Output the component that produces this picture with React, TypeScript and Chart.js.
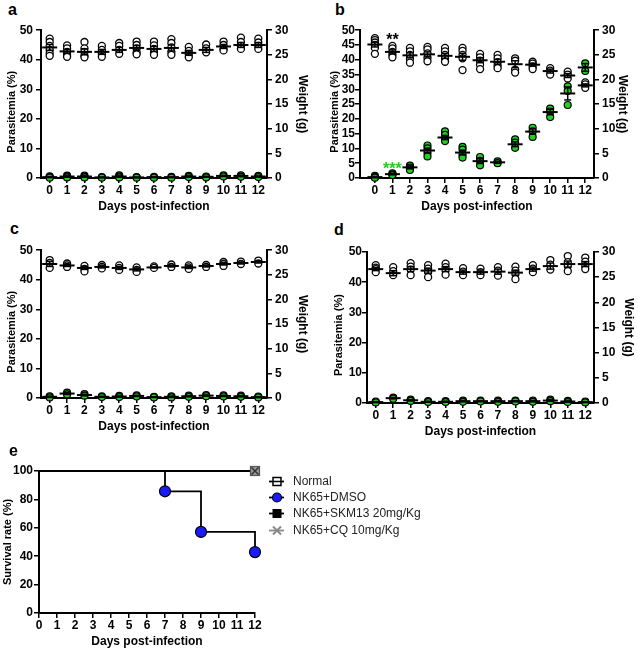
import React, { useEffect, useRef } from 'react';
import { Chart, registerables } from 'chart.js';

Chart.register(...registerables);

const FONT = '"Liberation Sans", Arial, Helvetica, sans-serif';
const DAYS = [0, 1, 2, 3, 4, 5, 6, 7, 8, 9, 10, 11, 12];
const PARA_TICKS_10 = [0, 10, 20, 30, 40, 50];
const PARA_TICKS_5 = [0, 5, 10, 15, 20, 25, 30, 35, 40, 45, 50];
const WEIGHT_TICKS = [0, 5, 10, 15, 20, 25, 30];
const SURV_TICKS = [0, 20, 40, 60, 80, 100];

const X_TITLE = 'Days post-infection';
const LEFT_TITLE = 'Parasitemia (%)     ';
const RIGHT_TITLE = 'Weight (g)';
const SURV_TITLE = 'Survival rate (%)';

// ---- panel a ----
const A_WEIGHT = [
  [28.3, 27.6, 26.8, 26.0, 25.3, 24.8], [26.9, 26.3, 25.6, 25.0, 24.6], [27.6, 26.3, 25.6, 24.8, 24.5],
  [26.8, 26.0, 25.2, 24.6], [27.4, 26.8, 26.0, 25.2], [27.7, 27.0, 26.3, 25.5, 25.1],
  [27.7, 26.9, 26.2, 25.5, 25.0], [28.2, 27.4, 26.5, 25.6, 25.0], [26.6, 25.8, 25.1, 24.5],
  [27.1, 26.3, 25.5], [27.7, 27.0, 26.2, 25.9], [28.5, 27.6, 26.8, 26.2], [28.3, 27.5, 26.8, 26.2],
];
const A_WEIGHT_MEAN = [26.5, 25.7, 25.6, 25.6, 26.0, 26.4, 26.2, 26.4, 25.4, 26.0, 26.7, 27.0, 27.0];
const A_WEIGHT_SEM = [0.6, 0.4, 0.6, 0.5, 0.5, 0.5, 0.5, 0.6, 0.5, 0.5, 0.4, 0.5, 0.5];
const A_PARA = [
  [0.6, 0.3, 0.1], [0.8, 0.5, 0.2], [0.8, 0.4, 0.2], [0.3, 0.1], [0.9, 0.5, 0.2], [0.3, 0.1], [0.4, 0.1],
  [0.4, 0.1], [0.7, 0.3], [0.5, 0.2], [0.9, 0.5], [0.9, 0.4], [0.7, 0.3],
];
const A_PARA_MEAN = [0.3, 0.5, 0.5, 0.2, 0.5, 0.2, 0.3, 0.3, 0.5, 0.4, 0.7, 0.7, 0.5];
const A_PARA_SEM = [0.15, 0.2, 0.2, 0.1, 0.2, 0.1, 0.15, 0.15, 0.2, 0.15, 0.2, 0.25, 0.2];

// ---- panel b ----
const B_WEIGHT = [
  [28.4, 28.0, 27.5, 27.0, 26.4, 25.2], [26.8, 26.3, 25.6, 25.0, 24.5], [26.4, 25.7, 25.0, 24.2, 23.4],
  [26.6, 26.1, 25.3, 24.4, 23.7], [26.4, 25.7, 25.0, 24.3, 23.6], [26.4, 25.8, 25.0, 24.3, 21.9],
  [25.2, 24.5, 23.8, 23.0, 22.1], [25.0, 24.3, 23.5, 22.8, 22.3], [24.3, 23.8, 22.0, 21.4],
  [23.6, 23.2, 22.6, 22.1], [22.3, 21.8, 21.0], [21.6, 21.0, 20.2], [19.4, 19.0, 18.3],
];
const B_WEIGHT_MEAN = [27.1, 25.6, 24.9, 25.1, 24.8, 24.6, 23.9, 23.6, 23.1, 23.0, 21.7, 20.8, 18.8];
const B_WEIGHT_SEM = [0.5, 0.4, 0.5, 0.5, 0.5, 0.7, 0.5, 0.5, 0.7, 0.3, 0.4, 0.4, 0.3];
const B_PARA = [
  [0.7, 0.3, 0.1], [1.6, 1.2, 1.0], [4.2, 3.5, 2.7], [11.0, 10.0, 8.5, 7.3], [15.8, 14.6, 13.0, 12.5],
  [10.5, 9.6, 7.9, 6.9], [7.1, 5.8, 4.3], [5.6, 5.0], [13.1, 12.0, 10.2], [17.0, 15.8, 13.9],
  [23.5, 22.5, 20.6], [31.0, 29.4, 24.7], [38.8, 36.2],
];
const B_PARA_MEAN = [0.3, 1.3, 3.6, 9.3, 13.7, 8.6, 5.7, 5.3, 11.4, 15.7, 22.3, 28.6, 37.4];
const B_PARA_SEM = [0.2, 0.2, 0.5, 0.8, 0.7, 0.8, 0.8, 0.3, 0.8, 0.9, 0.9, 2.2, 1.3];
const B_SIGNIF = [
  { day: 1, value: 48.2, text: '**', color: '#000000' },
  { day: 1, value: 4.5, text: '***', color: '#22cc22' },
];

// ---- panel c ----
const C_WEIGHT = [
  [28.0, 27.4, 26.4], [27.3, 26.9, 26.6], [26.8, 26.2, 25.7], [27.0, 26.6, 26.3], [26.9, 26.4, 26.0],
  [26.5, 26.0, 25.6], [26.7, 26.4], [27.1, 26.6], [26.9, 26.5, 26.2], [27.0, 26.6], [27.6, 27.2, 26.8],
  [27.7, 27.2], [27.9, 27.3],
];
const C_WEIGHT_MEAN = [27.2, 26.9, 26.4, 26.6, 26.4, 26.1, 26.5, 26.8, 26.5, 26.8, 27.2, 27.4, 27.6];
const C_WEIGHT_SEM = [0.5, 0.2, 0.3, 0.2, 0.3, 0.3, 0.1, 0.2, 0.2, 0.2, 0.2, 0.2, 0.2];
const C_PARA = [
  [0.6, 0.2], [1.8, 1.2], [1.3, 0.8], [0.6, 0.3], [0.7, 0.3], [0.9, 0.5], [0.4, 0.2], [0.6, 0.2],
  [0.8, 0.4], [1.0, 0.6], [0.9, 0.5], [0.8, 0.4], [0.5, 0.2],
];
const C_PARA_MEAN = [0.4, 1.5, 1.0, 0.4, 0.5, 0.7, 0.3, 0.4, 0.6, 0.8, 0.7, 0.6, 0.3];
const C_PARA_SEM = [0.2, 0.3, 0.25, 0.15, 0.2, 0.2, 0.1, 0.2, 0.2, 0.2, 0.2, 0.2, 0.15];

// ---- panel d ----
const D_WEIGHT = [
  [27.4, 26.9, 26.6, 26.0], [27.0, 26.2, 25.4], [27.8, 27.1, 26.5, 25.4], [27.4, 26.7, 26.0, 25.0],
  [27.7, 27.0, 26.3, 25.5], [26.8, 26.1, 25.4], [26.7, 26.0, 25.4], [27.0, 26.3, 25.3],
  [27.1, 26.3, 25.6, 24.6], [27.4, 26.7, 26.0], [28.4, 27.5, 26.5], [29.2, 28.0, 27.2, 26.2],
  [28.9, 28.1, 27.2, 26.6],
];
const D_WEIGHT_MEAN = [26.6, 25.8, 26.6, 26.3, 26.6, 26.0, 26.0, 26.1, 25.9, 26.6, 27.2, 27.6, 27.6];
const D_WEIGHT_SEM = [0.3, 0.5, 0.5, 0.5, 0.5, 0.4, 0.4, 0.5, 0.5, 0.4, 0.6, 0.6, 0.5];
const D_PARA = [
  [0.5, 0.2], [1.8, 1.4], [1.1, 0.7], [0.6, 0.3], [0.6, 0.3], [0.8, 0.4], [0.8, 0.5], [0.8, 0.4],
  [0.8, 0.5], [0.8, 0.4], [1.1, 0.6], [0.7, 0.3], [0.5, 0.2],
];
const D_PARA_MEAN = [0.3, 1.6, 0.9, 0.4, 0.4, 0.6, 0.6, 0.6, 0.6, 0.6, 0.8, 0.5, 0.3];
const D_PARA_SEM = [0.15, 0.2, 0.2, 0.15, 0.15, 0.2, 0.15, 0.2, 0.15, 0.2, 0.25, 0.2, 0.15];

// ---- panel e (survival) ----
const SURV_CTRL_DAYS = [0, 12];
const SURV_NORMAL = [100, 100];
const SURV_SKM13 = [100, 100];
const SURV_CQ = [100, 100];
const SURV_DMSO_DAYS = [0, 7, 9, 12];
const SURV_DMSO = [100, 85.7, 57.1, 42.9];
const LEGEND_LABELS = ['Normal', 'NK65+DMSO', 'NK65+SKM13 20mg/Kg', 'NK65+CQ 10mg/Kg'];

const GREEN = '#1ed21e';
const BLUE = '#1a1aff';

const bold12 = { family: FONT, size: 12, weight: 'bold' as const };
const bold11 = { family: FONT, size: 11, weight: 'bold' as const };

const fixedWidth = (w: number) => (s: any) => { s.width = w; };
const fixedHeight = (h: number) => (s: any) => { s.height = h; };
const fixedTicks = (vals: number[]) => (s: any) => { s.ticks = vals.map((v) => ({ value: v })); };
const gridStyle = () => ({
  display: true, drawOnChartArea: false, drawTicks: true, tickLength: 5,
  tickWidth: 1.5, tickColor: '#000', color: '#000', lineWidth: 1.5,
});
const borderStyle = { display: true, color: '#000', width: 2 };

const groupPoints = (groups: number[][]) =>
  groups.flatMap((g, i) => g.map((v) => ({ x: DAYS[i], y: v })));
const meanPoints = (m: number[]) => m.map((v, i) => ({ x: DAYS[i], y: v }));
const semBars = (m: number[], s: number[]) =>
  m.flatMap((v, i) => [
    { x: DAYS[i], y: v - s[i] },
    { x: DAYS[i], y: v + s[i] },
    { x: DAYS[i], y: null },
  ]);

type Geom = {
  left: number; top: number; width: number; height: number;
  padTop: number; lw: number; rw: number; xh: number; xMin: number;
  leftTitlePad: number; rightTitlePad: number; leftTicks: number[]; leftTickPad: number;
};

type PanelData = {
  weight: number[][]; wMean: number[]; wSem: number[];
  para: number[][]; pMean: number[]; pSem: number[];
  signif?: { day: number; value: number; text: string; color: string }[];
};

const signifPlugin = {
  id: 'signif',
  afterDatasetsDraw(chart: any) {
    const items = chart.options.plugins.signif?.items || [];
    const ctx = chart.ctx;
    ctx.save();
    ctx.font = `bold 16px ${FONT}`;
    ctx.textAlign = 'center';
    ctx.textBaseline = 'alphabetic';
    for (const it of items) {
      const x = chart.scales.x.getPixelForValue(it.day);
      const y = chart.scales.y.getPixelForValue(it.value);
      ctx.fillStyle = it.color;
      ctx.fillText(it.text, x, y + 16 * 0.6);
    }
    ctx.restore();
  },
};

function dualConfig(g: Geom, d: PanelData): any {
  const barDs = (data: any[], axis: string) => ({
    data, yAxisID: axis, showLine: true, spanGaps: false, clip: false,
    borderColor: '#000', borderWidth: 1.5,
    pointStyle: 'line', pointRadius: 3.5, pointBorderWidth: 1.5, pointBorderColor: '#000',
  });
  const meanDs = (data: any[], axis: string) => ({
    data, yAxisID: axis, showLine: false, clip: false,
    pointStyle: 'line', pointRadius: 7.5, pointBorderWidth: 2, pointBorderColor: '#000',
  });
  return {
    type: 'scatter',
    data: {
      datasets: [
        barDs(semBars(d.wMean, d.wSem), 'y2'),
        barDs(semBars(d.pMean, d.pSem), 'y'),
        meanDs(meanPoints(d.wMean), 'y2'),
        meanDs(meanPoints(d.pMean), 'y'),
        {
          data: groupPoints(d.para), yAxisID: 'y', clip: false,
          pointStyle: 'circle', pointRadius: 3.5, pointBackgroundColor: GREEN,
          pointBorderColor: '#000', pointBorderWidth: 1.2,
        },
        {
          data: groupPoints(d.weight), yAxisID: 'y2', clip: false,
          pointStyle: 'circle', pointRadius: 3.5, pointBackgroundColor: '#fff',
          pointBorderColor: '#000', pointBorderWidth: 1.3,
        },
      ],
    },
    options: {
      animation: false, responsive: false, maintainAspectRatio: false, events: [],
      layout: { padding: { top: g.padTop, left: 0, right: 0, bottom: 0 }, autoPadding: false },
      plugins: { legend: { display: false }, tooltip: { enabled: false }, signif: { items: d.signif || [] } },
      scales: {
        x: {
          type: 'linear', position: 'bottom', min: g.xMin, max: 12.5,
          afterFit: fixedHeight(g.xh), afterBuildTicks: fixedTicks(DAYS),
          grid: gridStyle(), border: borderStyle,
          ticks: { font: bold12, color: '#000', padding: 0, autoSkip: false, maxRotation: 0, minRotation: 0 },
          title: { display: true, text: X_TITLE, font: bold12, color: '#000', padding: { top: 0, bottom: 6 } },
        },
        y: {
          type: 'linear', position: 'left', min: 0, max: 50,
          afterFit: fixedWidth(g.lw), afterBuildTicks: fixedTicks(g.leftTicks),
          grid: gridStyle(), border: borderStyle,
          ticks: { font: bold12, color: '#000', padding: g.leftTickPad, autoSkip: false },
          title: { display: true, text: LEFT_TITLE, font: bold11, color: '#000', padding: { top: g.leftTitlePad, bottom: 0 } },
        },
        y2: {
          type: 'linear', position: 'right', min: 0, max: 30,
          afterFit: fixedWidth(g.rw), afterBuildTicks: fixedTicks(WEIGHT_TICKS),
          grid: gridStyle(), border: borderStyle,
          ticks: { font: bold12, color: '#000', padding: 3, autoSkip: false },
          title: { display: true, text: RIGHT_TITLE, font: bold12, color: '#000', padding: { top: g.rightTitlePad, bottom: 0 } },
        },
      },
    },
    plugins: [signifPlugin],
  };
}

function makeCqMarker() {
  const c = document.createElement('canvas');
  c.width = 12; c.height = 12;
  const g = c.getContext('2d')!;
  g.fillStyle = '#9a9a9a';
  g.fillRect(1, 1, 10, 10);
  g.strokeStyle = '#555';
  g.lineWidth = 1.2;
  g.strokeRect(1.5, 1.5, 9, 9);
  g.strokeStyle = '#333';
  g.lineWidth = 1.5;
  g.beginPath();
  g.moveTo(2.5, 2.5); g.lineTo(9.5, 9.5);
  g.moveTo(9.5, 2.5); g.lineTo(2.5, 9.5);
  g.stroke();
  return c;
}

const survLegendPlugin = {
  id: 'survLegend',
  afterDraw(chart: any) {
    const ctx = chart.ctx;
    const { right, top } = chart.chartArea;
    ctx.save();
    LEGEND_LABELS.forEach((label, i) => {
      const y = Math.round(top + 10 + i * 16.2) + 0.5;
      const cx = right + 22;
      ctx.lineWidth = 1.8;
      ctx.strokeStyle = i === 3 ? '#8a8a8a' : '#000';
      ctx.beginPath();
      ctx.moveTo(cx - 8, y);
      ctx.lineTo(cx + 7, y);
      ctx.stroke();
      ctx.lineWidth = 1.5;
      if (i === 0) {
        ctx.fillStyle = '#fff';
        ctx.fillRect(cx - 4, y - 4, 8, 8);
        ctx.strokeStyle = '#000';
        ctx.strokeRect(cx - 4, y - 4, 8, 8);
        ctx.beginPath(); ctx.moveTo(cx - 4, y); ctx.lineTo(cx + 4, y); ctx.stroke();
      } else if (i === 1) {
        ctx.fillStyle = BLUE;
        ctx.beginPath(); ctx.arc(cx, y, 4.5, 0, Math.PI * 2); ctx.fill();
        ctx.strokeStyle = '#000'; ctx.lineWidth = 1.2; ctx.stroke();
      } else if (i === 2) {
        ctx.fillStyle = '#000';
        ctx.fillRect(cx - 4.5, y - 4.5, 9, 9);
      } else {
        ctx.strokeStyle = '#8a8a8a';
        ctx.lineWidth = 2;
        ctx.beginPath();
        ctx.moveTo(cx - 4, y - 4); ctx.lineTo(cx + 4, y + 4);
        ctx.moveTo(cx + 4, y - 4); ctx.lineTo(cx - 4, y + 4);
        ctx.stroke();
      }
      ctx.fillStyle = '#222';
      ctx.font = `12px ${FONT}`;
      ctx.textAlign = 'left';
      ctx.textBaseline = 'middle';
      ctx.fillText(label, right + 38, y + 0.5);
    });
    ctx.restore();
  },
};

function survivalConfig(): any {
  const cq = makeCqMarker();
  const toXY = (xs: number[], ys: number[]) => ys.map((v, i) => ({ x: xs[i], y: v }));
  return {
    type: 'scatter',
    data: {
      datasets: [
        {
          label: LEGEND_LABELS[3], data: toXY(SURV_CTRL_DAYS, SURV_CQ), showLine: true, clip: false,
          borderColor: '#000', borderWidth: 1.8, pointStyle: cq, pointRadius: [0, 5],
        },
        {
          label: LEGEND_LABELS[1], data: toXY(SURV_DMSO_DAYS, SURV_DMSO), showLine: true, stepped: 'before', clip: false,
          borderColor: '#000', borderWidth: 1.8, pointStyle: 'circle', pointRadius: [0, 5.5, 5.5, 5.5],
          pointBackgroundColor: BLUE, pointBorderColor: '#000', pointBorderWidth: 1.2,
        },
        {
          label: LEGEND_LABELS[2], data: toXY(SURV_CTRL_DAYS, SURV_SKM13), showLine: true, clip: false,
          borderColor: '#000', borderWidth: 1.8, pointStyle: 'rect', pointRadius: [0, 5],
          pointBackgroundColor: '#000', pointBorderColor: '#000',
        },
        {
          label: LEGEND_LABELS[0], data: toXY(SURV_CTRL_DAYS, SURV_NORMAL), showLine: true, clip: false,
          borderColor: '#000', borderWidth: 1.8, pointStyle: 'rect', pointRadius: [0, 5],
          pointBackgroundColor: '#fff', pointBorderColor: '#000',
        },
      ],
    },
    options: {
      animation: false, responsive: false, maintainAspectRatio: false, events: [],
      layout: { padding: { top: 26, left: 0, right: 383, bottom: 0 }, autoPadding: false },
      plugins: { legend: { display: false }, tooltip: { enabled: false } },
      scales: {
        x: {
          type: 'linear', position: 'bottom', min: 0, max: 12,
          afterFit: fixedHeight(36), afterBuildTicks: fixedTicks(DAYS),
          grid: gridStyle(), border: borderStyle,
          ticks: { font: bold12, color: '#000', padding: 0, autoSkip: false, maxRotation: 0, minRotation: 0 },
          title: { display: true, text: X_TITLE, font: bold12, color: '#000', padding: { top: 0, bottom: 0 } },
        },
        y: {
          type: 'linear', position: 'left', min: 0, max: 100,
          afterFit: fixedWidth(39), afterBuildTicks: fixedTicks(SURV_TICKS),
          grid: gridStyle(), border: borderStyle,
          ticks: { font: bold12, color: '#000', padding: 1, autoSkip: false },
          title: { display: true, text: SURV_TITLE, font: bold11, color: '#000', padding: { top: 1, bottom: 0 } },
        },
      },
    },
    plugins: [survLegendPlugin],
  };
}

function ChartBox(props: { left: number; top: number; width: number; height: number; make: () => any }) {
  const ref = useRef<HTMLCanvasElement>(null);
  useEffect(() => {
    const chart = new Chart(ref.current as HTMLCanvasElement, props.make());
    return () => chart.destroy();
  }, []);
  return (
    <canvas
      ref={ref}
      width={props.width}
      height={props.height}
      style={{ position: 'absolute', left: props.left, top: props.top, width: props.width, height: props.height }}
    />
  );
}

const GEOM_A: Geom = { left: 0, top: 20, width: 318, height: 200, padTop: 7, lw: 41, rw: 51, xh: 42, xMin: -0.5, leftTitlePad: 5.4, rightTitlePad: 8.3, leftTicks: PARA_TICKS_10, leftTickPad: 3 };
const GEOM_B: Geom = { left: 318, top: 20, width: 320, height: 200, padTop: 7, lw: 42, rw: 44, xh: 42, xMin: -0.85, leftTitlePad: 10, rightTitlePad: 8.8, leftTicks: PARA_TICKS_5, leftTickPad: 0 };
const GEOM_C: Geom = { left: 0, top: 240, width: 318, height: 200, padTop: 7, lw: 41, rw: 51, xh: 42, xMin: -0.5, leftTitlePad: 5.4, rightTitlePad: 8.3, leftTicks: PARA_TICKS_10, leftTickPad: 3 };
const GEOM_D: Geom = { left: 318, top: 240, width: 320, height: 205, padTop: 12, lw: 49, rw: 44, xh: 42, xMin: -0.5, leftTitlePad: 14, rightTitlePad: 2.5, leftTicks: PARA_TICKS_10, leftTickPad: 0 };

const PANEL_LETTERS = [
  { text: 'a', left: 8, top: 1.5 },
  { text: 'b', left: 335, top: 1.5 },
  { text: 'c', left: 10, top: 221 },
  { text: 'd', left: 334, top: 221.5 },
  { text: 'e', left: 9, top: 442.5 },
];

export default function App() {
  const panels: [Geom, PanelData][] = [
    [GEOM_A, { weight: A_WEIGHT, wMean: A_WEIGHT_MEAN, wSem: A_WEIGHT_SEM, para: A_PARA, pMean: A_PARA_MEAN, pSem: A_PARA_SEM }],
    [GEOM_B, { weight: B_WEIGHT, wMean: B_WEIGHT_MEAN, wSem: B_WEIGHT_SEM, para: B_PARA, pMean: B_PARA_MEAN, pSem: B_PARA_SEM, signif: B_SIGNIF }],
    [GEOM_C, { weight: C_WEIGHT, wMean: C_WEIGHT_MEAN, wSem: C_WEIGHT_SEM, para: C_PARA, pMean: C_PARA_MEAN, pSem: C_PARA_SEM }],
    [GEOM_D, { weight: D_WEIGHT, wMean: D_WEIGHT_MEAN, wSem: D_WEIGHT_SEM, para: D_PARA, pMean: D_PARA_MEAN, pSem: D_PARA_SEM }],
  ];
  return (
    <div style={{ position: 'absolute', left: 0, top: 0, width: 638, height: 649, background: '#fff', overflow: 'hidden' }}>
      {panels.map(([g, d], i) => (
        <ChartBox key={i} left={g.left} top={g.top} width={g.width} height={g.height} make={() => dualConfig(g, d)} />
      ))}
      <ChartBox left={0} top={445} width={638} height={204} make={survivalConfig} />
      {PANEL_LETTERS.map((l) => (
        <div
          key={l.text}
          style={{ position: 'absolute', left: l.left, top: l.top, font: `bold 16px ${FONT}`, lineHeight: '16px', color: '#000' }}
        >
          {l.text}
        </div>
      ))}
    </div>
  );
}
